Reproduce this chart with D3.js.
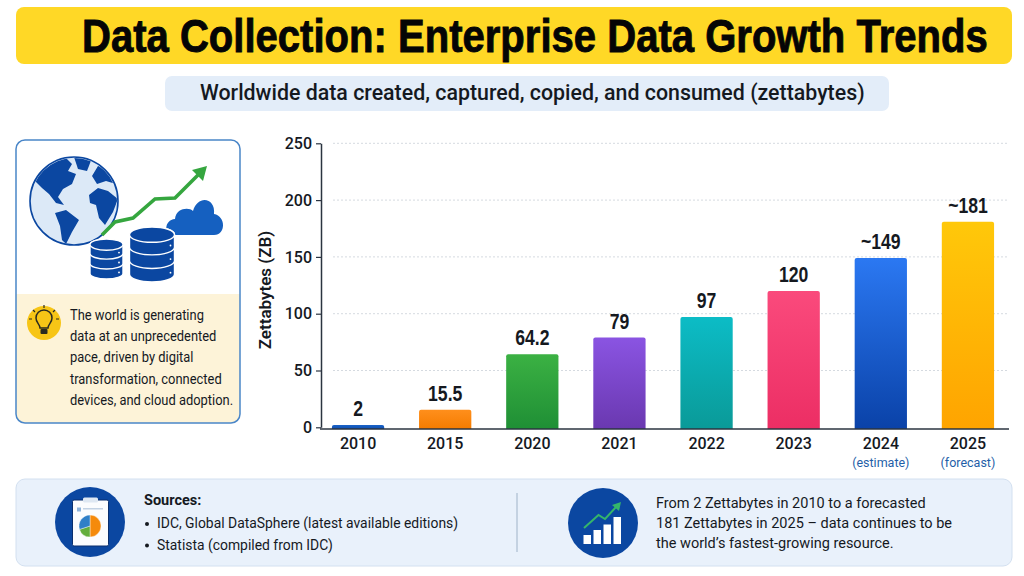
<!DOCTYPE html>
<html>
<head>
<meta charset="utf-8">
<script src="https://cdn.jsdelivr.net/npm/d3@7"></script>
<style>
  body { margin: 0; background: #fff; }
  text { font-family: Roboto, "Liberation Sans", sans-serif; fill: #15191f; }
  .heavy { font-family: "Liberation Sans", sans-serif; font-weight: 700; }
</style>
</head>
<body>
<svg id="chart" width="1024" height="576" viewBox="0 0 1024 576"></svg>
<script>
// Chart data
const years = ["2010", "2015", "2020", "2021", "2022", "2023", "2024", "2025"];
const zettabytes = [2, 15.5, 64.2, 79, 97, 120, 149, 181];
const valueLabels = ["2", "15.5", "64.2", "79", "97", "120", "~149", "~181"];
const yearNotes = ["", "", "", "", "", "", "(estimate)", "(forecast)"];
const yTicks = [0, 50, 100, 150, 200, 250];
const barTops = ["#1a62c8", "#ff8f1c", "#3bb143", "#8a54e2", "#0cbcc6", "#fa4a7c", "#2b78f2", "#ffc80a"];
const barBottoms = ["#0f4fae", "#f57c00", "#1f8f35", "#6a38b0", "#0a9a98", "#ec2e64", "#0a42a8", "#ffa400"];

// Panel text
const titleText = "Data Collection: Enterprise Data Growth Trends";
const subtitleText = "Worldwide data created, captured, copied, and consumed (zettabytes)";
const noteLines = ["The world is generating", "data at an unprecedented", "pace, driven by digital", "transformation, connected", "devices, and cloud adoption."];
const sourceLines = ["IDC, Global DataSphere (latest available editions)", "Statista (compiled from IDC)"];
const summaryLines = ["From 2 Zettabytes in 2010 to a forecasted", "181 Zettabytes in 2025 – data continues to be", "the world’s fastest-growing resource."];
const piePart = [50, 20, 30];
const pieColors = ["#f58a0b", "#63ad3c", "#2f7fc8"];

const navy = "#0b47a1";
const svg = d3.select("#chart");
const defs = svg.append("defs");

// Squeeze a text sideways so it takes the wanted width (no narrow font is installed)
function squeeze(node, px, py, width) {
  const natural = node.node().getComputedTextLength();
  node.attr("transform", `translate(${px},${py}) scale(${width / natural},1)`);
}

// Header band and subtitle pill
svg.append("rect").attr("x", 16).attr("y", 7).attr("width", 996).attr("height", 57).attr("rx", 8).attr("fill", "#ffd826");
const title = svg.append("text").attr("class", "heavy").attr("font-size", 47)
  .style("fill", "#050505").style("stroke", "#050505").style("stroke-width", 0.9).text(titleText);
squeeze(title, 82, 52, 906);
svg.append("rect").attr("x", 165).attr("y", 76).attr("width", 724).attr("height", 35).attr("rx", 7).attr("fill", "#e3edf9");
const subtitle = svg.append("text").attr("font-size", 22).attr("font-weight", 500).text(subtitleText);
squeeze(subtitle, 200, 100, 665);

// Scales
const x = d3.scaleBand().domain(years).range([314.5, 1011.5]).paddingInner(0.4).paddingOuter(0.2);
const y = d3.scaleLinear().domain([0, 250]).range([427.3, 143.3]);
const baseline = 429;

// Gridlines
svg.append("g").selectAll("line").data(yTicks.slice(1)).join("line")
  .attr("x1", 333).attr("x2", 1008)
  .attr("y1", d => y(d)).attr("y2", d => y(d))
  .attr("stroke", "#d5dae0").attr("stroke-width", 1).attr("stroke-dasharray", "2 2");

// Bar gradients
years.forEach((year, i) => {
  const grad = defs.append("linearGradient").attr("id", `bar${year}`).attr("x1", 0).attr("x2", 0).attr("y1", 0).attr("y2", 1);
  grad.append("stop").attr("offset", "0%").attr("stop-color", barTops[i]);
  grad.append("stop").attr("offset", "100%").attr("stop-color", barBottoms[i]);
});

// Bars and their value labels
svg.append("g").selectAll("path").data(years).join("path")
  .attr("d", (year, i) => {
    const left = x(year), w = x.bandwidth(), top = y(zettabytes[i]), r = 2;
    return `M${left},${baseline}V${top + r}Q${left},${top} ${left + r},${top}H${left + w - r}Q${left + w},${top} ${left + w},${top + r}V${baseline}Z`;
  })
  .attr("fill", year => `url(#bar${year})`);

svg.append("g").selectAll("text").data(years).join("text")
  .attr("class", "heavy")
  .attr("text-anchor", "middle").attr("font-size", 22)
  .attr("transform", (year, i) => `translate(${x(year) + x.bandwidth() / 2},${y(zettabytes[i]) - 9}) scale(0.8,1)`)
  .text((year, i) => valueLabels[i]);

// Y axis
const yAxis = svg.append("g").attr("transform", "translate(321,0)")
  .call(d3.axisLeft(y).tickValues(yTicks).tickSize(5).tickPadding(4).tickSizeOuter(0));
yAxis.select(".domain").attr("stroke", "#2b3440").attr("stroke-width", 1.5);
yAxis.selectAll(".tick line").attr("stroke", "#2b3440").attr("stroke-width", 1.2);
yAxis.selectAll(".tick text").attr("font-size", 16).attr("font-weight", 500).attr("font-family", "Roboto");

svg.append("text")
  .attr("transform", "translate(271,290) rotate(-90)")
  .attr("text-anchor", "middle").attr("font-size", 17).attr("font-weight", 600)
  .text("Zettabytes (ZB)");

// X axis
const xAxis = svg.append("g").attr("transform", `translate(0,${baseline})`)
  .call(d3.axisBottom(x).tickSize(0).tickPadding(9));
xAxis.select(".domain").attr("d", "M320,0H1009").attr("stroke", "#2b3440").attr("stroke-width", 1.5);
xAxis.selectAll(".tick text").attr("font-size", 16).attr("font-weight", 500).attr("font-family", "Roboto");

svg.append("g").selectAll("text").data(years).join("text")
  .attr("x", year => x(year) + x.bandwidth() / 2)
  .attr("y", 467).attr("text-anchor", "middle").attr("font-size", 12.5)
  .style("fill", "#1f5fa8")
  .text((year, i) => yearNotes[i]);

// Left panel
defs.append("clipPath").attr("id", "panelClip").append("rect")
  .attr("x", 16).attr("y", 140).attr("width", 224).attr("height", 283).attr("rx", 9);
const panel = svg.append("g");
panel.append("rect").attr("x", 16).attr("y", 140).attr("width", 224).attr("height", 283).attr("rx", 9).attr("fill", "#fff");
panel.append("rect").attr("x", 16).attr("y", 294).attr("width", 224).attr("height", 129)
  .attr("fill", "#fdf3d8").attr("clip-path", "url(#panelClip)");
panel.append("rect").attr("x", 16).attr("y", 140).attr("width", 224).attr("height", 283).attr("rx", 9)
  .attr("fill", "none").attr("stroke", "#4a86c8").attr("stroke-width", 1.5);

// Globe
defs.append("clipPath").attr("id", "globeClip").append("circle").attr("cx", 74).attr("cy", 201).attr("r", 43);
panel.append("circle").attr("cx", 74).attr("cy", 201).attr("r", 44).attr("fill", "#dce9f7").attr("stroke", navy).attr("stroke-width", 1.6);
const landShapes = [
  "M34 180L44 168L54 160L66 158L72 164L68 171L76 174L72 184L63 189L58 197L64 205L56 203L49 194L42 188Z",
  "M74 157L92 158L87 171L78 169Z",
  "M98 166L110 170L116 184L106 181L97 184L92 176Z",
  "M89 195L98 188L108 191L118 199L113 212L105 225L99 218L96 205L90 203Z",
  "M55 213L66 210L79 220L72 232L66 244L62 240L60 226Z"
];
panel.append("g").attr("clip-path", "url(#globeClip)").selectAll("path").data(landShapes).join("path")
  .attr("d", d => d).attr("fill", navy);

// Growth arrow
panel.append("path").attr("d", "M102 235L115 222L133 218L155 199L175 198L201 172")
  .attr("fill", "none").attr("stroke", "#35a63f").attr("stroke-width", 3.6);
panel.append("path").attr("d", "M207 166L203 181L192 170Z").attr("fill", "#35a63f");

// Cloud
panel.append("path")
  .attr("d", "M175 235C163 235 164 220 175 219C176 208 189 207 193 211C198 194 216 198 214 214C226 216 226 235 214 235Z")
  .attr("fill", "#1560c0");

// Database stacks
function drawDatabase(cx, top, bottom, w) {
  const rx = w / 2, ry = w * 0.17;
  const layer = (bottom - top - ry * 2) / 3;
  for (let i = 2; i >= 0; i--) {
    const t = top + ry + i * layer;
    panel.append("path")
      .attr("d", `M${cx - rx},${t}V${t + layer - 1}A${rx},${ry} 0 0 0 ${cx + rx},${t + layer - 1}V${t}A${rx},${ry} 0 0 0 ${cx - rx},${t}Z`)
      .attr("fill", navy).attr("stroke", "#fff").attr("stroke-width", 1.4);
    panel.append("circle").attr("cx", cx + rx - 4).attr("cy", t + layer * 0.8).attr("r", 0.9).attr("fill", "#fff");
  }
  panel.append("ellipse").attr("cx", cx).attr("cy", top + ry).attr("rx", rx).attr("ry", ry)
    .attr("fill", navy).attr("stroke", "#fff").attr("stroke-width", 1.4);
}
drawDatabase(106.5, 239, 280, 33);
drawDatabase(152, 227, 283, 45);

// Light bulb badge
panel.append("circle").attr("cx", 44).attr("cy", 323).attr("r", 17).attr("fill", "#f7c516");
panel.append("path").attr("d", "M40 328C40 324 36 323 36 318A8 8 0 0 1 52 318C52 323 48 324 48 328Z")
  .attr("fill", "none").attr("stroke", "#2a2a20").attr("stroke-width", 1.5);
panel.append("rect").attr("x", 40.5).attr("y", 329).attr("width", 7).attr("height", 5).attr("rx", 1).attr("fill", "#2a2a20");
panel.append("path").attr("d", "M44 305V308M33 310L35 312M55 310L53 312M29 319H32M59 319H56")
  .attr("stroke", "#2a2a20").attr("stroke-width", 1.2);

panel.selectAll("text.note").data(noteLines).join("text").attr("class", "note")
  .attr("transform", (d, i) => `translate(70,${320 + i * 21.2}) scale(0.936,1)`)
  .attr("font-size", 13.8).text(d => d);

// Bottom panel
const footer = svg.append("g");
footer.append("rect").attr("x", 16).attr("y", 479).attr("width", 996).attr("height", 87).attr("rx", 9)
  .attr("fill", "#e9f1fb").attr("stroke", "#d3e0f0");
footer.append("line").attr("x1", 517).attr("x2", 517).attr("y1", 493).attr("y2", 552).attr("stroke", "#9fb3c8");

// Clipboard icon with pie
footer.append("circle").attr("cx", 90).attr("cy", 522).attr("r", 35).attr("fill", navy);
footer.append("rect").attr("x", 72.5).attr("y", 500).attr("width", 36).attr("height", 46).attr("rx", 1.5)
  .attr("fill", "#fbfcfe").attr("stroke", "#0a2f6e");
footer.append("rect").attr("x", 83).attr("y", 497.5).attr("width", 15).attr("height", 5).attr("rx", 1.5).attr("fill", "#dfe8f3");
footer.append("rect").attr("x", 77).attr("y", 507.5).attr("width", 4).attr("height", 4).attr("fill", "#8fb4dc");
footer.append("rect").attr("x", 83).attr("y", 508).attr("width", 20).attr("height", 1.5).attr("fill", "#c3d2e4");
const pie = d3.pie().sort(null)(piePart);
const arc = d3.arc().innerRadius(0).outerRadius(11);
footer.append("g").attr("transform", "translate(90,526)").selectAll("path").data(pie).join("path")
  .attr("d", arc).attr("fill", (d, i) => pieColors[i]).attr("stroke", "#fff").attr("stroke-width", 0.4);

footer.append("text").attr("x", 144).attr("y", 505).attr("font-size", 14.5).attr("font-weight", 700).text("Sources:");
footer.selectAll("circle.bullet").data(sourceLines).join("circle").attr("class", "bullet")
  .attr("cx", 147).attr("cy", (d, i) => 524 + i * 21.5).attr("r", 2).attr("fill", "#15191f");
footer.selectAll("text.source").data(sourceLines).join("text").attr("class", "source")
  .attr("x", 157).attr("y", (d, i) => 528 + i * 21.5).attr("font-size", 13.9).text(d => d);

// Growth icon
footer.append("circle").attr("cx", 603).attr("cy", 523).attr("r", 35).attr("fill", navy);
footer.append("path").attr("d", "M583.5 544V535H591V544ZM593.5 544V530H601V544ZM603.5 544V524.5H611V544ZM613.5 544V517H621V544Z").attr("fill", "#fff");
footer.append("path").attr("d", "M584 528L598.5 515L605 519L617 506").attr("fill", "none").attr("stroke", "#35b56a").attr("stroke-width", 2);
footer.append("path").attr("d", "M621 502L619 511L612 505Z").attr("fill", "#35b56a");

footer.selectAll("text.summary").data(summaryLines).join("text").attr("class", "summary")
  .attr("x", 656).attr("y", (d, i) => 508 + i * 20.2).attr("font-size", 14.5).text(d => d);
</script>
</body>
</html>
